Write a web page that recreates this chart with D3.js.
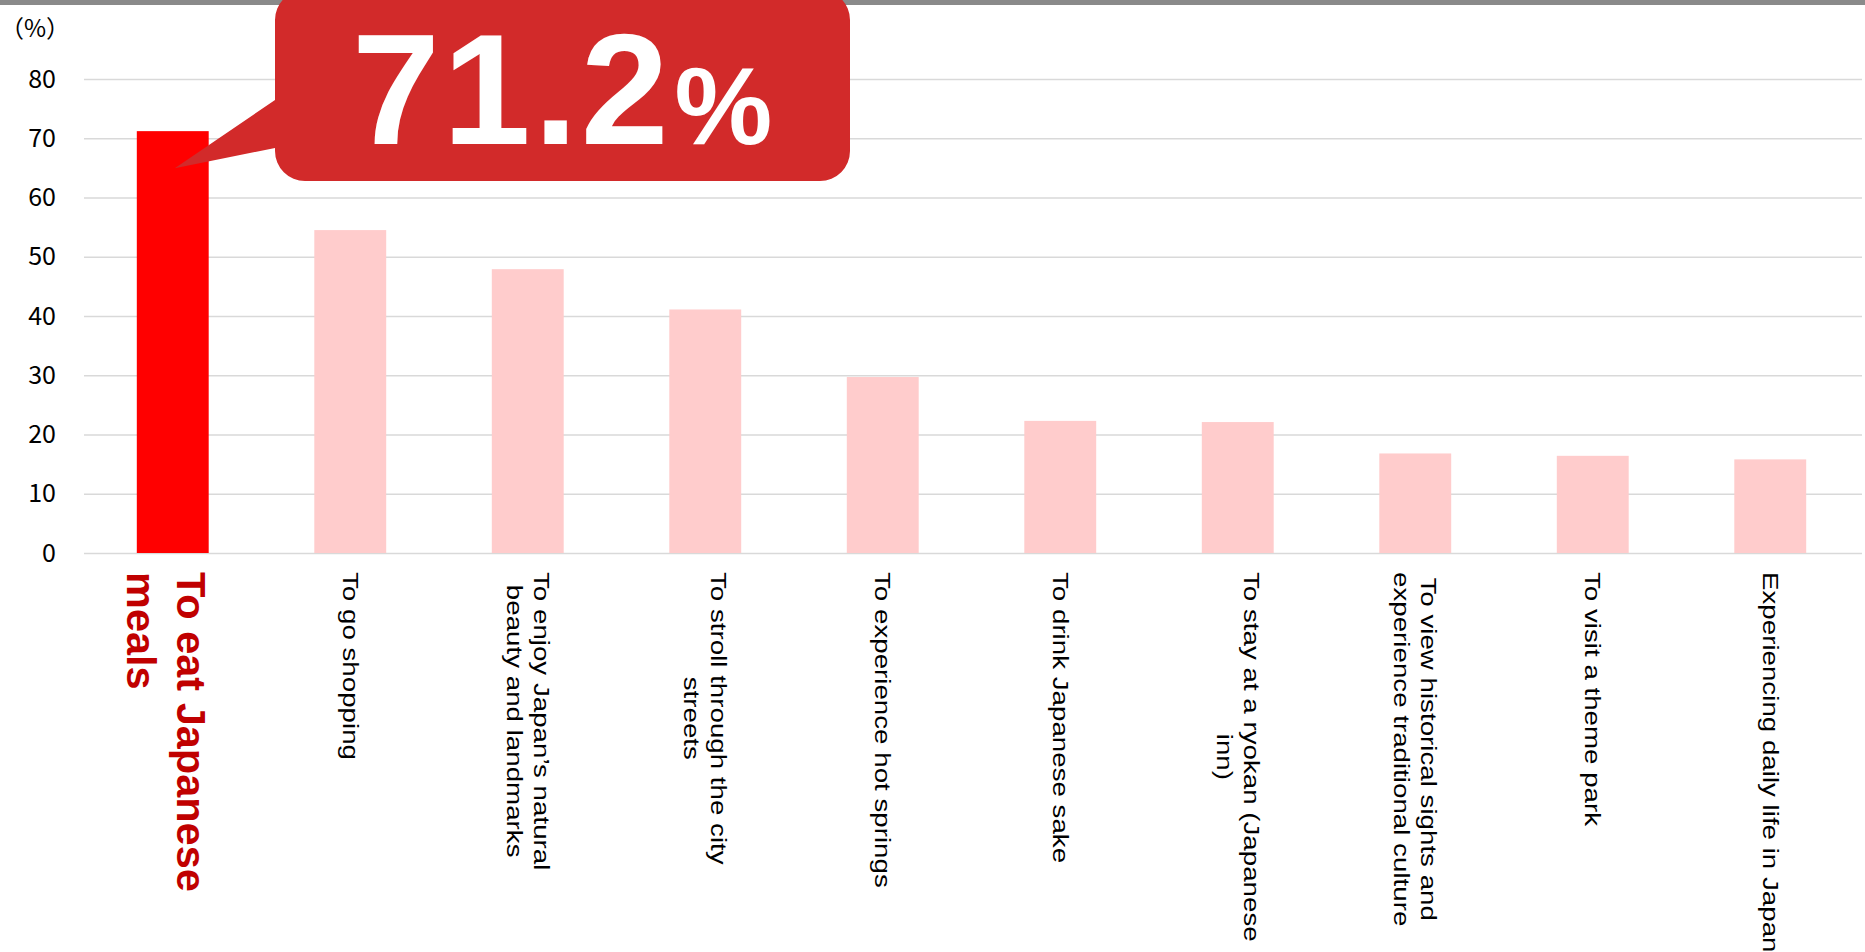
<!DOCTYPE html>
<html>
<head>
<meta charset="utf-8">
<script src="https://cdn.jsdelivr.net/npm/d3@7"></script>
<style>
  html, body { margin: 0; padding: 0; background: #fff; overflow: hidden; }
  svg { display: block; }
</style>
</head>
<body>
<svg></svg>
<script>
// chart data
const categories = [
  ["To eat Japanese", "meals"],
  ["To go shopping"],
  ["To enjoy Japan\u2019s natural", "beauty and landmarks"],
  ["To stroll through the city", "streets"],
  ["To experience hot springs"],
  ["To drink Japanese sake"],
  ["To stay at a ryokan (Japanese", "inn)"],
  ["To view historical sights and", "experience traditional culture"],
  ["To visit a theme park"],
  ["Experiencing daily life in Japan"]
];
const values = [71.2, 54.5, 47.9, 41.1, 29.7, 22.3, 22.1, 16.8, 16.4, 15.8];
const yTicks = [0, 10, 20, 30, 40, 50, 60, 70, 80];
const yUnit = "\uFF08%\uFF09";

const layout = {
  width: 1865,
  height: 952,
  left: 84,
  right: 1859,
  gridEnd: 1862,
  top: 79,
  bottom: 553,
  labelTop: 572
};
const colors = {
  highlight: "#ff0000",
  bar: "#ffcccc",
  grid: "#d9d9d9",
  callout: "#d22a2a",
  labelHighlight: "#c00000"
};

const svg = d3.select("svg")
  .attr("width", layout.width)
  .attr("height", layout.height);

const xScale = d3.scaleBand()
  .domain(d3.range(values.length))
  .range([layout.left, layout.right])
  .paddingInner(0.595)
  .paddingOuter(0.2975);

const yScale = d3.scaleLinear()
  .domain([0, 80])
  .range([layout.bottom, layout.top]);

// thin gray rule along the top edge
svg.append("rect")
  .attr("x", 0).attr("y", 0)
  .attr("width", layout.width).attr("height", 5)
  .attr("fill", "#8a8a8a");

// gridlines + y tick labels
const yAxis = svg.append("g")
  .attr("transform", `translate(${layout.left},0)`)
  .call(
    d3.axisLeft(yScale)
      .tickValues(yTicks)
      .tickSize(-(layout.gridEnd - layout.left))
      .tickPadding(28)
      .tickFormat(d3.format("d"))
  );
yAxis.select(".domain").remove();
yAxis.selectAll(".tick line")
  .attr("stroke", colors.grid)
  .attr("stroke-width", 1.5);
yAxis.selectAll(".tick text")
  .attr("font-family", "'Noto Sans CJK JP', 'Noto Sans', sans-serif")
  .attr("font-size", 25)
  .attr("fill", "#000");

svg.append("text")
  .attr("x", 70)
  .attr("y", 37)
  .attr("text-anchor", "end")
  .attr("font-family", "'Noto Sans CJK JP', sans-serif")
  .attr("font-size", 24)
  .attr("fill", "#000")
  .text(yUnit);

// bars
svg.append("g")
  .selectAll("rect")
  .data(values)
  .join("rect")
  .attr("x", (d, i) => xScale(i))
  .attr("y", (d) => yScale(d))
  .attr("width", xScale.bandwidth())
  .attr("height", (d) => yScale(0) - yScale(d))
  .attr("fill", (d, i) => (i === 0 ? colors.highlight : colors.bar));

// rotated category labels
const labels = svg.append("g")
  .selectAll("g")
  .data(categories)
  .join("g")
  .attr("transform", (d, i) => {
    const cx = xScale(i) + xScale.bandwidth() / 2;
    return i === 0
      ? `translate(${cx - 6},${layout.labelTop}) rotate(90)`
      : `translate(${cx},${layout.labelTop}) rotate(90) scale(1.26,1)`;
  });

labels.each(function (lines, i) {
  const bold = i === 0;
  const lineGap = bold ? 50 : 27;
  const text = d3.select(this).append("text")
    .attr("font-family", "'Liberation Sans', Arial, sans-serif")
    .attr("font-size", bold ? 41.5 : 22)
    .attr("font-weight", bold ? "bold" : "normal")
    .attr("fill", bold ? colors.labelHighlight : "#000");
  const spans = lines.map((line, j) =>
    text.append("tspan")
      .attr("x", 0)
      .attr("y", (j - (lines.length - 1) / 2) * lineGap)
      .attr("dy", "0.35em")
      .text(line)
  );
  if (!bold) {
    const maxLen = d3.max(spans, (s) => s.node().getComputedTextLength());
    spans.forEach((s) => s.attr("x", maxLen / 2).attr("text-anchor", "middle"));
  }
});

// callout bubble for the top value
const box = { x0: 275, x1: 850, y0: -10, y1: 181, r: 30 };
const tip = [
  xScale(0) + xScale.bandwidth() / 2 + 2,
  yScale(values[0]) + 37
];
const p = d3.path();
p.moveTo(box.x0 + box.r, box.y0);
p.lineTo(box.x1 - box.r, box.y0);
p.arcTo(box.x1, box.y0, box.x1, box.y0 + box.r, box.r);
p.lineTo(box.x1, box.y1 - box.r);
p.arcTo(box.x1, box.y1, box.x1 - box.r, box.y1, box.r);
p.lineTo(box.x0 + box.r, box.y1);
p.arcTo(box.x0, box.y1, box.x0, box.y1 - box.r, box.r);
p.lineTo(box.x0, 148);
p.lineTo(tip[0], tip[1]);
p.lineTo(box.x0, 100);
p.lineTo(box.x0, box.y0 + box.r);
p.arcTo(box.x0, box.y0, box.x0 + box.r, box.y0, box.r);
p.closePath();

svg.append("path")
  .attr("d", p.toString())
  .attr("fill", colors.callout);

const callText = svg.append("text")
  .attr("x", 352)
  .attr("y", 144)
  .attr("font-family", "'Liberation Sans', Arial, sans-serif")
  .attr("font-weight", "bold")
  .attr("font-size", 158)
  .attr("letter-spacing", 3)
  .attr("fill", "#fff");
callText.append("tspan").text(values[0].toFixed(1));
callText.append("tspan")
  .attr("dx", 3)
  .attr("letter-spacing", 0)
  .attr("font-size", 110)
  .text("%");
</script>
</body>
</html>
